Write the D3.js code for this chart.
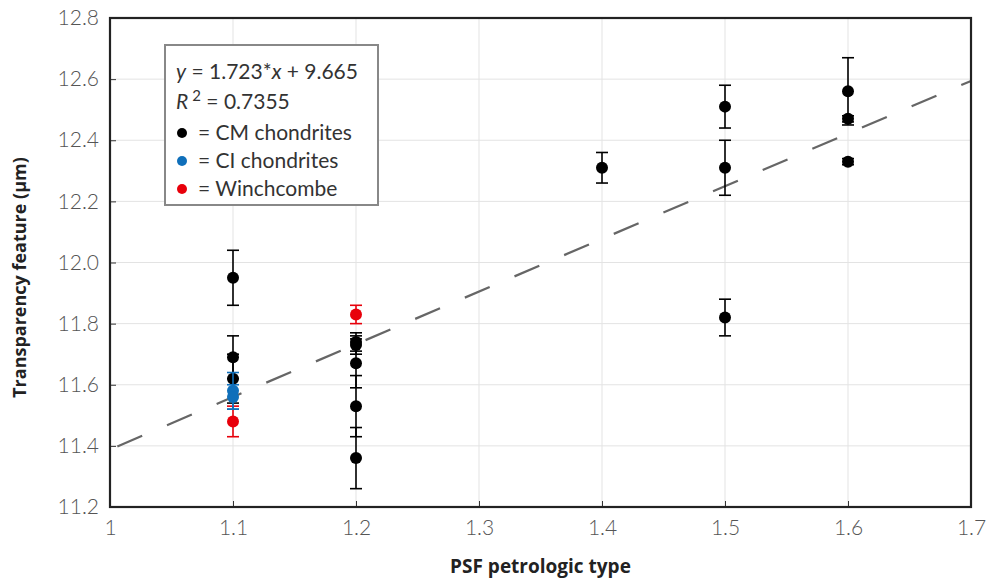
<!DOCTYPE html>
<html>
<head>
<meta charset="utf-8">
<script src="https://cdn.jsdelivr.net/npm/d3@7"></script>
<style>
  body { margin: 0; background: #fff; }
  text { font-family: Lato, "Open Sans", sans-serif; }
</style>
</head>
<body>
<script>
// points: petrologic type, transparency feature, error
var cmX   = [1.1, 1.1, 1.1, 1.2, 1.2, 1.2, 1.2, 1.2, 1.4, 1.5, 1.5, 1.5, 1.6, 1.6, 1.6],
    cmY   = [11.95, 11.69, 11.62, 11.74, 11.73, 11.67, 11.53, 11.36, 12.31, 12.51, 12.31, 11.82, 12.56, 12.47, 12.33],
    cmErr = [0.09, 0.07, 0.08, 0.03, 0.03, 0.08, 0.10, 0.10, 0.05, 0.07, 0.09, 0.06, 0.11, 0.01, 0.01];
var ciX   = [1.1, 1.1],
    ciY   = [11.58, 11.56],
    ciErr = [0.06, 0.04];
var wiX   = [1.1, 1.2],
    wiY   = [11.48, 11.83],
    wiErr = [0.05, 0.03];
var fitSlope = 1.723, fitIntercept = 9.665;
var xTicks = [1, 1.1, 1.2, 1.3, 1.4, 1.5, 1.6, 1.7],
    yTicks = [11.2, 11.4, 11.6, 11.8, 12.0, 12.2, 12.4, 12.6, 12.8];

var W = 986, H = 584,
    margin = { top: 18, right: 15, bottom: 77, left: 110 },
    width = W - margin.left - margin.right,
    height = H - margin.top - margin.bottom;

var x = d3.scaleLinear().domain([1, 1.7]).range([0, width]);
var y = d3.scaleLinear().domain([11.2, 12.8]).range([height, 0]);

var svg = d3.select('body').append('svg')
    .attr('width', W).attr('height', H)
  .append('g')
    .attr('transform', 'translate(' + margin.left + ',' + margin.top + ')');

// grid
svg.append('g').selectAll('line').data(xTicks.slice(1, -1)).enter().append('line')
    .attr('x1', function(d) { return x(d); }).attr('x2', function(d) { return x(d); })
    .attr('y1', 0).attr('y2', height)
    .attr('stroke', '#e3e3e3').attr('stroke-width', 1);
svg.append('g').selectAll('line').data(yTicks.slice(1, -1)).enter().append('line')
    .attr('y1', function(d) { return y(d); }).attr('y2', function(d) { return y(d); })
    .attr('x1', 0).attr('x2', width)
    .attr('stroke', '#e3e3e3').attr('stroke-width', 1);

// axes (ticks inward)
var xAxis = d3.axisBottom(x).tickValues(xTicks).tickSizeInner(-6).tickSizeOuter(0)
    .tickPadding(15).tickFormat(function(d) { return d3.format('~g')(d); });
var yAxis = d3.axisLeft(y).tickValues(yTicks).tickSizeInner(-6).tickSizeOuter(0)
    .tickPadding(11).tickFormat(d3.format('.1f'));

var gx = svg.append('g').attr('transform', 'translate(0,' + height + ')').call(xAxis);
var gy = svg.append('g').call(yAxis);
[gx, gy].forEach(function(g) {
  g.select('.domain').remove();
  g.selectAll('.tick line').attr('stroke', '#333');
  g.selectAll('.tick text').attr('font-size', 21).attr('fill', '#555')
    .style('font-family', 'Lato, sans-serif').style('font-weight', 300);
});
gx.selectAll('.tick text').attr('dy', '0.62em');

// fit line
svg.append('path')
    .datum([1, 1.7])
    .attr('d', d3.line()
        .x(function(d) { return x(d); })
        .y(function(d) { return y(fitSlope * d + fitIntercept); }))
    .attr('stroke', '#666').attr('stroke-width', 2.2).attr('fill', 'none')
    .attr('stroke-dasharray', '27,27').attr('stroke-dashoffset', -8);

// series with error bars
function series(xs, ys, es, color) {
  var d = xs.map(function(v, i) { return { x: v, y: ys[i], e: es[i] }; });
  var g = svg.append('g');
  var eb = g.selectAll('g.eb').data(d).enter().append('g')
      .attr('stroke', color).attr('stroke-width', 1.6);
  eb.append('line')
      .attr('x1', function(p) { return x(p.x); }).attr('x2', function(p) { return x(p.x); })
      .attr('y1', function(p) { return y(p.y - p.e); }).attr('y2', function(p) { return y(p.y + p.e); });
  [-1, 1].forEach(function(s) {
    eb.append('line')
        .attr('x1', function(p) { return x(p.x) - 6; }).attr('x2', function(p) { return x(p.x) + 6; })
        .attr('y1', function(p) { return y(p.y + s * p.e); }).attr('y2', function(p) { return y(p.y + s * p.e); });
  });
  g.selectAll('circle').data(d).enter().append('circle')
      .attr('cx', function(p) { return x(p.x); })
      .attr('cy', function(p) { return y(p.y); })
      .attr('r', 6).attr('fill', color);
}
series(wiX, wiY, wiErr, '#e8000b');
series(cmX, cmY, cmErr, '#000');
series(ciX, ciY, ciErr, '#0f6fba');

// frame
svg.append('rect').attr('width', width).attr('height', height)
    .attr('fill', 'none').attr('stroke', '#222').attr('stroke-width', 2.2);

// legend box
var leg = svg.append('g').attr('transform', 'translate(55,27)');
leg.append('rect').attr('width', 213).attr('height', 160)
    .attr('fill', '#fff').attr('stroke', '#888').attr('stroke-width', 2);
var t1 = leg.append('text').attr('x', 11).attr('y', 34).attr('font-size', 21).attr('fill', '#333');
t1.append('tspan').attr('font-style', 'italic').text('y');
t1.append('tspan').text(' = 1.723*');
t1.append('tspan').attr('font-style', 'italic').text('x');
t1.append('tspan').text(' + 9.665');
var t2 = leg.append('text').attr('x', 11).attr('y', 64).attr('font-size', 21).attr('fill', '#333');
t2.append('tspan').attr('font-style', 'italic').text('R');
t2.append('tspan').attr('font-size', 15).attr('dy', -8).attr('dx', 4).text('2');
t2.append('tspan').attr('dy', 8).text(' = 0.7355');
var legItems = [['#000', '= CM chondrites'], ['#0f6fba', '= CI chondrites'], ['#e8000b', '= Winchcombe']];
legItems.forEach(function(it, i) {
  var yy = 88 + i * 28;
  leg.append('circle').attr('cx', 17).attr('cy', yy).attr('r', 5).attr('fill', it[0]);
  leg.append('text').attr('x', 33).attr('y', yy + 7).attr('font-size', 21).attr('fill', '#333').text(it[1]);
});

// axis titles
svg.append('text')
    .attr('x', width / 2).attr('y', height + 66)
    .attr('text-anchor', 'middle').attr('font-size', 19).attr('font-weight', 'bold').attr('fill', '#222')
    .style('font-family', '"Open Sans", sans-serif')
    .text('PSF petrologic type');
svg.append('text')
    .attr('transform', 'translate(' + (-84) + ',' + (height / 2 + 15) + ') rotate(-90)')
    .attr('text-anchor', 'middle').attr('font-size', 18).attr('font-weight', 'bold').attr('fill', '#222')
    .style('font-family', '"Open Sans", sans-serif')
    .text('Transparency feature (µm)');
</script>
</body>
</html>
